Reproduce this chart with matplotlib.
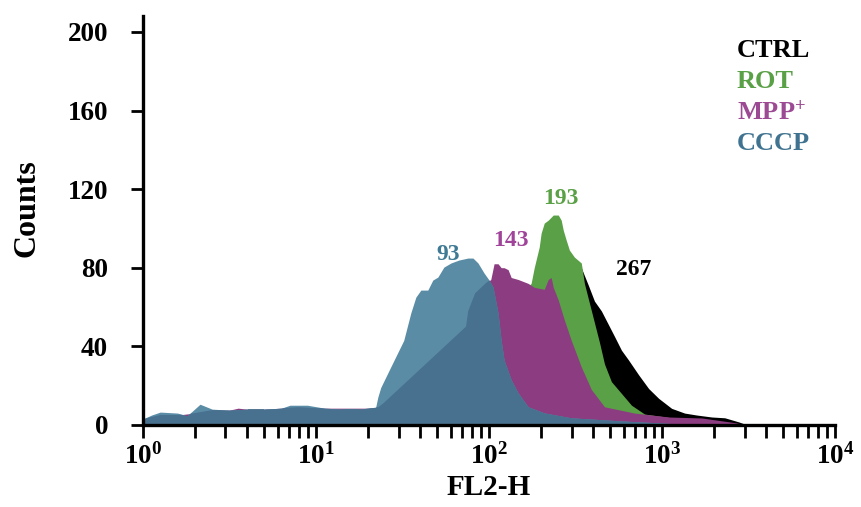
import numpy as np
import matplotlib
matplotlib.use('Agg')
import matplotlib.pyplot as plt

plt.rcParams['font.family'] = 'Liberation Serif'
plt.rcParams['font.weight'] = 'bold'
plt.rcParams['mathtext.fontset'] = 'custom'
plt.rcParams['mathtext.rm'] = 'Liberation Serif:bold'
plt.rcParams['mathtext.bf'] = 'Liberation Serif:bold'
plt.rcParams['mathtext.it'] = 'Liberation Serif:bold:italic'

# histogram outlines, x in decades (log10 FL2-H), y in counts
ctrl_logx = [1.70, 2.00, 2.20, 2.40, 2.50, 2.533, 2.551, 2.574, 2.609, 2.649, 2.690, 2.725,
             2.765, 2.806, 2.864, 2.922, 2.980, 3.055, 3.130, 3.200, 3.287, 3.362, 3.443, 3.49]
ctrl_counts = [0, 30, 60, 76, 79, 80, 76, 71, 63, 58, 51, 45,
               38, 33, 25.5, 18.5, 13.5, 8.4, 6, 5, 4, 3.6, 1.5, 0]

rot_logx = [1.60, 1.90, 2.10, 2.20, 2.243, 2.261, 2.290, 2.301, 2.319, 2.342, 2.371, 2.400,
            2.417, 2.429, 2.446, 2.464, 2.493, 2.533, 2.551, 2.580, 2.609, 2.638, 2.667,
            2.707, 2.765, 2.823, 2.899, 3.055, 3.110, 3.14]
rot_counts = [0, 25, 55, 68, 72, 80, 90.5, 97.6, 102.7, 104.2, 106.8, 106.8,
              104.2, 99, 94, 89, 85.4, 82.4, 72, 62, 52, 42, 31,
              22, 16, 10, 5.5, 3.6, 1, 0]

mpp_logx = [0.00, 0.10, 0.20, 0.30, 0.40, 0.50, 0.55, 0.60, 0.70, 0.80, 0.90, 1.00, 1.10,
            1.20, 1.30, 1.36, 1.39, 1.867, 1.88, 1.92, 1.98, 2.01, 2.029, 2.052, 2.070, 2.087,
            2.110, 2.128, 2.168, 2.226, 2.261, 2.319, 2.342, 2.359, 2.371, 2.400, 2.435,
            2.475, 2.533, 2.591, 2.667, 2.84, 3.04, 3.23, 3.43, 3.47]
mpp_counts = [3, 5, 5, 6, 7.5, 7.5, 8.5, 8, 8, 8.5, 9, 8.5, 8.5,
              8.5, 8.5, 9, 11, 50, 58, 67, 72, 74, 82, 82, 80, 80,
              79, 75, 74, 72, 70, 69, 74, 75, 70, 63.5, 53.4,
              43, 29.5, 18, 9.2, 6, 4, 3.5, 1, 0]

cccp_logx = [0.00, 0.05, 0.10, 0.20, 0.255, 0.33, 0.40, 0.50, 0.60, 0.70, 0.80, 0.85, 0.95,
             1.05, 1.15, 1.25, 1.345, 1.357, 1.374, 1.432, 1.507, 1.548, 1.577, 1.606, 1.646,
             1.675, 1.704, 1.739, 1.780, 1.826, 1.878, 1.907, 1.936, 1.971, 2.000, 2.023,
             2.052, 2.070, 2.087, 2.128, 2.168, 2.226, 2.319, 2.475, 2.77, 3.20]
cccp_counts = [3, 5, 6.5, 6, 4.6, 10.5, 8, 7.5, 8, 8, 8.5, 10, 10,
               8.5, 8, 8, 9, 14, 19, 29.5, 43, 57, 65, 68.6, 68.6,
               73.7, 75.2, 80.3, 82.4, 83.9, 84.9, 84.9, 82.4, 77.3, 73.7, 70.2,
               57, 43, 33, 23, 16.3, 9.2, 6.1, 3.6, 2, 0]

legend_names = ['CTRL', 'ROT', 'MPP$^{+}$', 'CCCP']
legend_colors = ['#000000', '#5aa046', '#9b4a93', '#3f7390']
peak_labels = ['267', '193', '143', '93']
peak_pos = [(10**2.835, 79), (10**2.417, 115), (10**2.125, 94), (10**1.762, 86.5)]
peak_colors = ['#000000', '#5aa046', '#a0449a', '#3f7a94']

fig = plt.figure(figsize=(8.61, 5.07), dpi=100)
ax = fig.add_axes([0.166, 0.162, 0.804, 0.806])

ax.fill_between(10**np.array(ctrl_logx), ctrl_counts, color='#000000', lw=0)
ax.fill_between(10**np.array(rot_logx), rot_counts, color='#5aa046', lw=0)
mpp_fill = ax.fill_between(10**np.array(mpp_logx), mpp_counts, color='#8c3c80', lw=0)
ax.fill_between(10**np.array(cccp_logx), cccp_counts, color='#5a8ca6', lw=0)
# darker tone where CCCP overlaps the other histograms
dark = ax.fill_between(10**np.array(cccp_logx), cccp_counts, color='#48708f', lw=0)
dark.set_clip_path(mpp_fill.get_paths()[0], ax.transData)

ax.set_xscale('log')
ax.set_xlim(1, 1e4)
ax.set_ylim(0, 208)
ax.set_yticks([0, 40, 80, 120, 160, 200])
ax.spines['top'].set_visible(False)
ax.spines['right'].set_visible(False)
for s in ['left', 'bottom']:
    ax.spines[s].set_linewidth(2.4)
ax.tick_params(axis='both', which='major', length=9, width=2, labelsize=19.5)
ax.tick_params(axis='y', pad=16)
ax.tick_params(axis='x', pad=4)
ax.tick_params(axis='x', which='minor', length=9, width=2)
ax.xaxis.set_minor_locator(matplotlib.ticker.LogLocator(base=10, subs=np.arange(2, 10)))
ax.xaxis.set_minor_formatter(matplotlib.ticker.NullFormatter())

ax.set_xlabel('FL2-H', fontsize=21, fontweight='bold', va='center')
ax.xaxis.set_label_coords(0.5, -0.154)
ax.set_ylabel('Counts', fontsize=23, fontweight='bold')
ax.yaxis.set_label_coords(-0.147, 0.53)

for i, name in enumerate(legend_names):
    ax.text(0.858, 0.917 - i * 0.0765, name, transform=ax.transAxes, fontsize=19,
            fontweight='bold', color=legend_colors[i], va='center', ha='left')

for lab, (px, py), c in zip(peak_labels, peak_pos, peak_colors):
    ax.text(px, py, lab, fontsize=17, fontweight='bold', color=c, ha='center', va='center')

fig.savefig('out.png', dpi=100, facecolor='white')
